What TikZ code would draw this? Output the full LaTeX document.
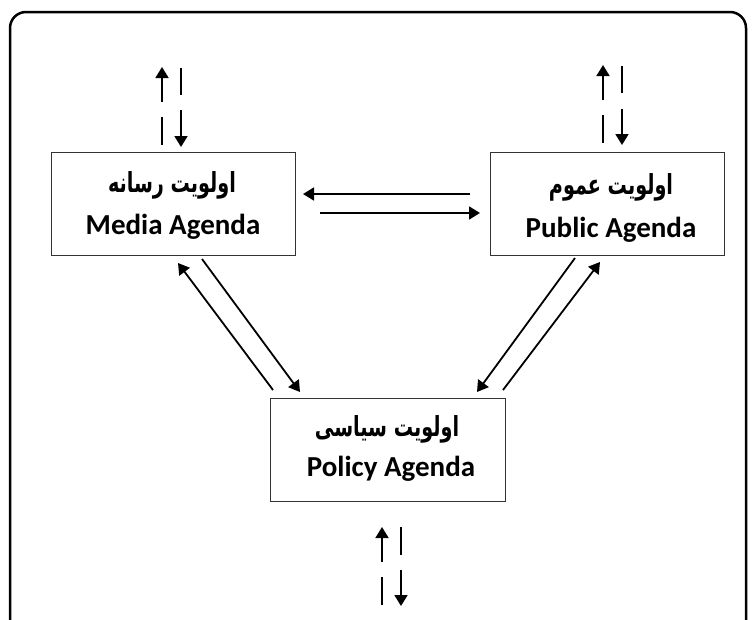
\documentclass[tikz,border=0pt]{standalone}
\usepackage{fontspec}
\usepackage{graphicx}
\setmainfont{Carlito}
\newfontfamily\fafont[Script=Arabic,BoldFont={DejaVu Sans Bold}]{DejaVu Sans}
\TeXXeTstate=1
\usetikzlibrary{arrows.meta}
\newcommand{\fatext}[1]{\scalebox{0.8}[1.15]{\fafont\bfseries\beginR #1\endR}}
\begin{document}
\begin{tikzpicture}[x=1pt,y=-1pt,
  agbox/.style={draw=black!80, line width=1.2pt, fill=white, inner sep=0pt},
  arr/.style={line width=1.8pt, -{Triangle[length=11pt,width=13pt]}},
  ln/.style={line width=1.8pt},
  en/.style={font=\fontsize{29}{34}\selectfont\bfseries, anchor=base, inner sep=0pt},
  fa/.style={font=\fontsize{24}{28}\selectfont, anchor=base, inner sep=0pt}]
\useasboundingbox (0,0) rectangle (752,619);
\begin{scope}
\clip (0,0) rectangle (752,619);
\draw[line width=2.5pt, rounded corners=16pt] (10,12) rectangle (746,650);
\end{scope}
% boxes
\node[agbox, minimum width=244pt, minimum height=103pt, anchor=north west] (media) at (51,152) {};
\node[agbox, minimum width=234pt, minimum height=103pt, anchor=north west] (public) at (490,152) {};
\node[agbox, minimum width=235pt, minimum height=103pt, anchor=north west] (policy) at (270,398) {};
% texts
\node[fa] (mediafa) at (172,192) {\fatext{اولویت رسانه}};
\node[en] (mediaen) at (173,234) {Media Agenda};
\node[fa] (publicfa) at (611,194) {\fatext{اولویت عموم}};
\node[en] (publicen) at (611,237) {Public Agenda};
\node[fa] (policyfa) at (387,436) {\fatext{اولویت سیاسی}};
\node[en] (policyen) at (391,476) {Policy Agenda};
% coordinates
\coordinate (h1s) at (470,194); \coordinate (h1e) at (303,194);
\coordinate (h2s) at (320,213); \coordinate (h2e) at (480,213);
\coordinate (l1s) at (273,390); \coordinate (l1e) at (178,263);
\coordinate (l2s) at (202,259); \coordinate (l2e) at (300,392);
\coordinate (r1s) at (575,258); \coordinate (r1e) at (477,392);
\coordinate (r2s) at (503,390); \coordinate (r2e) at (600,262);
% top-left
\coordinate (ma1s) at (162,102); \coordinate (ma1e) at (162,67);
\coordinate (ma2s) at (181,68);  \coordinate (ma2e) at (181,95);
\coordinate (ma3s) at (162,117); \coordinate (ma3e) at (162,145);
\coordinate (ma4s) at (181,110); \coordinate (ma4e) at (181,147);
% top-right
\coordinate (pa1s) at (603,100); \coordinate (pa1e) at (603,65);
\coordinate (pa2s) at (622,66);  \coordinate (pa2e) at (622,93);
\coordinate (pa3s) at (603,115); \coordinate (pa3e) at (603,143);
\coordinate (pa4s) at (622,109); \coordinate (pa4e) at (622,145);
% bottom
\coordinate (ba1s) at (382,562); \coordinate (ba1e) at (382,527);
\coordinate (ba2s) at (401,527); \coordinate (ba2e) at (401,555);
\coordinate (ba3s) at (382,577); \coordinate (ba3e) at (382,605);
\coordinate (ba4s) at (401,570); \coordinate (ba4e) at (401,606);
% arrows
\draw[arr] (h1s) -- (h1e);
\draw[arr] (h2s) -- (h2e);
\draw[arr] (l1s) -- (l1e);
\draw[arr] (l2s) -- (l2e);
\draw[arr] (r1s) -- (r1e);
\draw[arr] (r2s) -- (r2e);
\draw[arr] (ma1s) -- (ma1e);
\draw[ln]  (ma2s) -- (ma2e);
\draw[ln]  (ma3s) -- (ma3e);
\draw[arr] (ma4s) -- (ma4e);
\draw[arr] (pa1s) -- (pa1e);
\draw[ln]  (pa2s) -- (pa2e);
\draw[ln]  (pa3s) -- (pa3e);
\draw[arr] (pa4s) -- (pa4e);
\draw[arr] (ba1s) -- (ba1e);
\draw[ln]  (ba2s) -- (ba2e);
\draw[ln]  (ba3s) -- (ba3e);
\draw[arr] (ba4s) -- (ba4e);
\end{tikzpicture}
\end{document}
